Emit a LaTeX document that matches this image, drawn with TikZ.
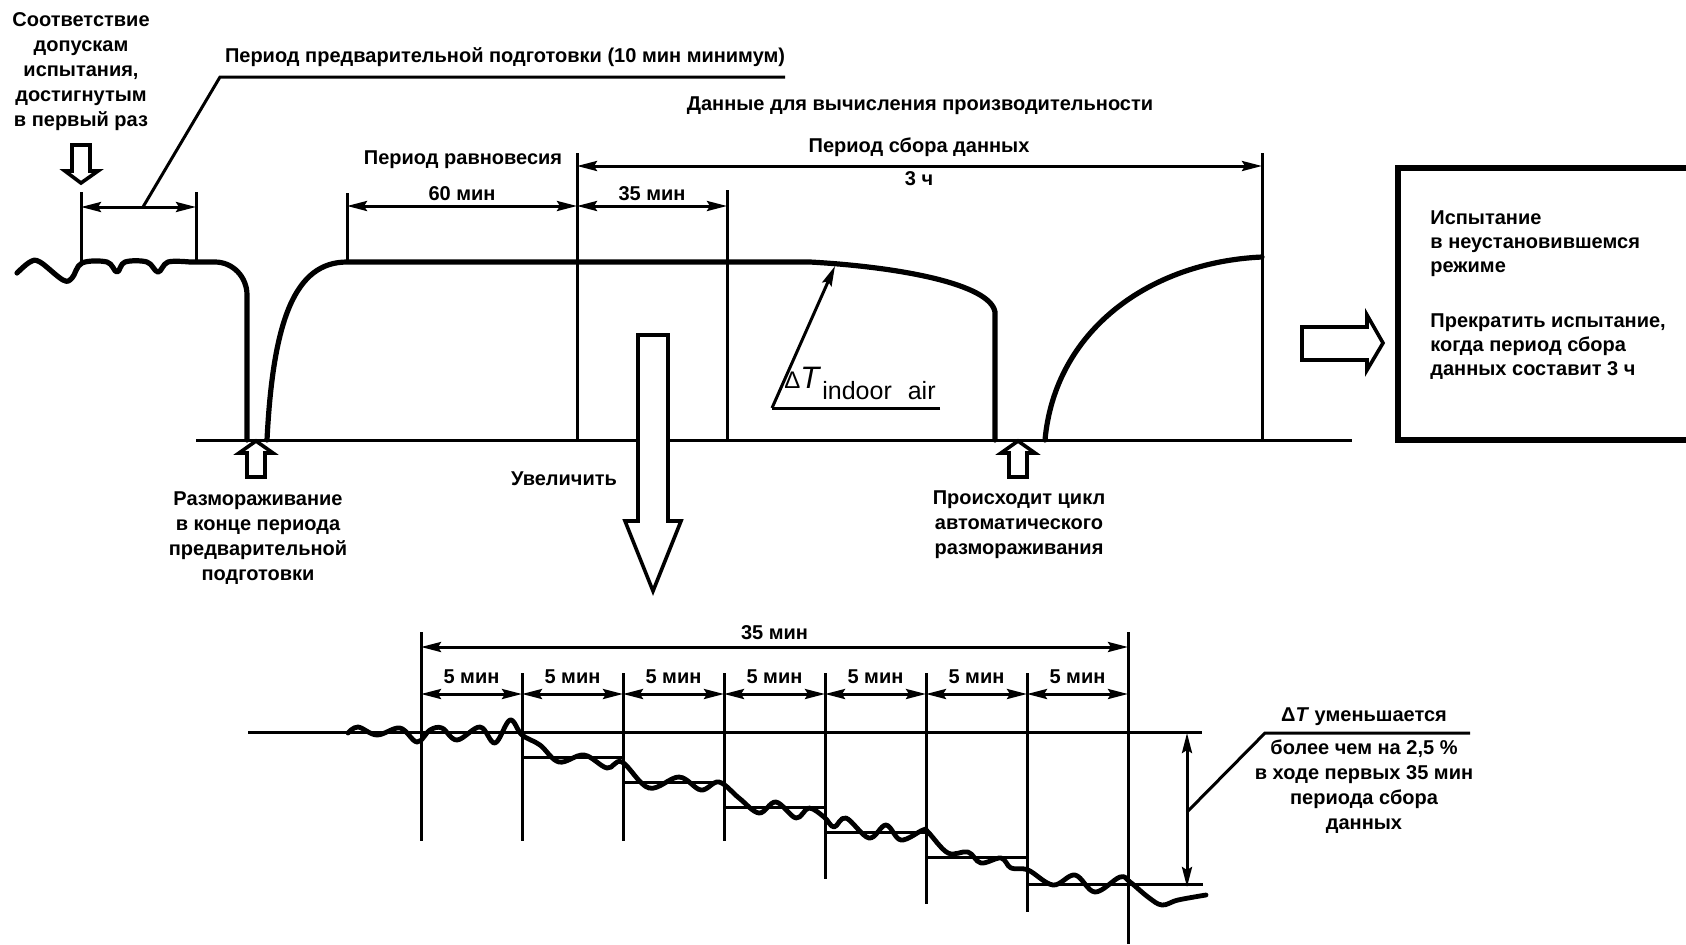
\documentclass[tikz,border=0pt]{standalone}
\usepackage{fontspec}
\setmainfont{Liberation Sans}
\usetikzlibrary{arrows.meta}

\tikzset{
	tickline/.style={line width=1.5pt},
	bigcurve/.style={line width=2.6pt, line join=round, line cap=round},
	dimarrow/.style={line width=1.5pt, {Stealth[length=10pt,width=5pt,inset=1.5pt]}-{Stealth[length=10pt,width=5pt,inset=1.5pt]}},
	onearrow/.style={line width=1.5pt, -{Stealth[length=10pt,width=5pt,inset=1.5pt]}},
	hollowarrow/.style={line width=1.8pt, line join=miter, fill=white},
	txt/.style={inner sep=0pt, align=center, font=\fontsize{10}{12.5}\selectfont\bfseries},
	txtl/.style={inner sep=0pt, align=left, anchor=west, font=\fontsize{10}{12}\selectfont\bfseries},
}

\begin{document}
\begin{tikzpicture}[x=0.5pt, y=-0.5pt]
		%%%%% START %%%%%
		\useasboundingbox (0,0) rectangle (1686,944);
		\clip (0,0) rectangle (1686,944);
		
		% upper chart: temperature curve
		\draw[bigcurve] plot[smooth, tension=0.6] coordinates {(17,273) (30,262) (40,262) (63,280) (72,278) (82,263) (107,262) (117,272) (125,262) (147,262) (158,272) (168,262) (190,262)}
			-- (215,262) to[out=0, in=90] (247,295) -- (247,440);
		\draw[bigcurve] (267,440) .. controls (273,320) and (295,262) .. (347,262) -- (810,262)
			.. controls (900,267) and (990,284) .. (995,312) -- (995,440);
		\draw[bigcurve] (1045,440) .. controls (1055,330) and (1150,262) .. (1262,257);
		
		% upper chart: axis and ticks
		\draw[tickline] (196,440) -- (1352,440);
		\draw[tickline] (81,192) -- (81,263);
		\draw[tickline] (196,192) -- (196,263);
		\draw[tickline] (347,193) -- (347,263);
		\draw[tickline] (577,153) -- (577,440);
		\draw[tickline] (727,190) -- (727,440);
		\draw[tickline] (1262,153) -- (1262,440);
		
		% dimensions
		\coordinate (preA) at (81,207);
		\coordinate (preB) at (196,207);
		\draw[dimarrow] (preA) -- (preB);
		\coordinate (preLead) at (143,207);
		\coordinate (preKnee) at (220,77);
		\coordinate (preEnd) at (785,77);
		\draw[tickline] (preLead) -- (preKnee) -- (preEnd);
		\node[txt] (preText) at (505,57) {Период предварительной подготовки (10 мин минимум)};
		
		\draw[dimarrow] (347,206) -- node[txt, above=2pt] (sixty) {60 мин} (577,206);
		\draw[dimarrow] (577,206) -- node[txt, above=2pt] (thirtyfive) {35 мин} (727,206);
		\draw[dimarrow] (577,166) -- (1262,166);
		\node[txt] (equil) at (463,160) {Период равновесия};
		\node[txt] (collect) at (919,147) {Период сбора данных};
		\node[txt] (hours) at (919,179) {3 ч};
		\node[txt] (perf) at (920,106) {Данные для вычисления производительности};
		
		\node[txt] (first) at (81,72) {Соответствие\\допускам\\испытания,\\достигнутым\\в первый раз};
		
		% delta T label
		\coordinate (dtFoot) at (772,408);
		\coordinate (dtTip) at (835,266);
		\draw[tickline] (940,408) -- (dtFoot);
		\draw[onearrow] (dtFoot) -- (dtTip);
		\node[inner sep=0pt, anchor=base west] (dT) at (784,388) {{\fontsize{12}{14}\selectfont Δ}{\fontsize{15.5}{17}\selectfont\itshape T}\hspace{1.5pt}{\fontsize{12.5}{14}\selectfont\raisebox{-5.5pt}{indoor\hspace{8pt}air}}};
		
		% hollow arrows
		\draw[hollowarrow] (72,145) -- (90,145) -- (90,171) -- (98,171) -- (81,183) -- (65,171) -- (72,171) -- cycle;
		\draw[hollowarrow] (256,441) -- (273,453) -- (265,453) -- (265,477) -- (247,477) -- (247,453) -- (239,453) -- cycle;
		\draw[hollowarrow] (1018,441) -- (1035,453) -- (1027,453) -- (1027,477) -- (1009,477) -- (1009,453) -- (1001,453) -- cycle;
		\draw[hollowarrow] (1302,327) -- (1367,327) -- (1367,315) -- (1383,343) -- (1367,370) -- (1367,360) -- (1302,360) -- cycle;
		\draw[hollowarrow] (638,335) -- (668,335) -- (668,521) -- (681,521) -- (653,591) -- (625,521) -- (638,521) -- cycle;
		
		\node[txt] (defrost) at (258,538) {Размораживание\\в конце периода\\предварительной\\подготовки};
		\node[txt] (auto) at (1019,525) {Происходит цикл\\автоматического\\размораживания};
		\node[txt] (zoomin) at (564,479) {Увеличить};
		
		% result box
		\draw[line width=2.6pt] (1398,168) rectangle (1720,440);
		\node[txtl] (transient) at (1430,244) {Испытание\\в неустановившемся\\режиме};
		\node[txtl] (stop) at (1430,347) {Прекратить испытание,\\когда период сбора\\данных составит 3 ч};
		
		% lower chart: enlarged first 35 minutes
		\draw[tickline] (248,732) -- (1202,732);
		\draw[tickline] (421,632) -- (421,841);
		\draw[tickline] (1128,632) -- (1128,944);
		\foreach \xa/\ybot in {522/841, 623/841, 724/841, 825/879, 926/904, 1027/912}
			\draw[tickline] (\xa,673) -- (\xa,\ybot);
		\foreach \xa/\xb/\lev in {522/623/757, 623/724/782, 724/825/807, 825/926/832, 926/1027/857, 1027/1203/884}
			\draw[tickline] (\xa,\lev) -- (\xb,\lev);
		\draw[dimarrow] (421,647) -- node[txt, above=3pt] (total) {35 мин} (1128,647);
		\foreach \xa/\xb in {421/522, 522/623, 623/724, 724/825, 825/926, 926/1027, 1027/1128}
			\draw[dimarrow] (\xa,694) -- node[txt, above=4.5pt] {5 мин} (\xb,694);
		
		\draw[bigcurve, line width=2.4pt] plot[smooth, tension=0.6] coordinates {(348,733) (358,727) (377,735) (400,728) (417,742) (430,730) (442,728) (457,740) (480,727) (495,743) (510,720) (522,735) (540,745) (559,762) (584,755) (607,768) (622,762) (649,788) (679,777) (701,790) (719,782) (739,798) (759,813) (776,802) (796,818) (809,808) (824,817) (834,827) (846,818) (869,838) (886,825) (901,840) (923,830) (928,832) (948,853) (968,852) (981,863) (1001,858) (1011,868) (1028,870) (1053,885) (1075,875) (1095,892) (1120,877) (1130,882) (1148,897) (1162,905) (1178,900) (1206,895)};
		
		% decrease label
		\draw[dimarrow] (1187,733) -- (1187,887);
		\coordinate (decLead) at (1187,812);
		\coordinate (decKnee) at (1265,733);
		\coordinate (decEnd) at (1470,733);
		\draw[tickline] (decLead) -- (decKnee) -- (decEnd);
		\node[txt] (decTop) at (1364,717) {Δ\textit{T} уменьшается};
		\node[txt] (decText) at (1364,787) {более чем на 2,5 \%\\в ходе первых 35 мин\\периода сбора\\данных};
		
		%%%%% END %%%%%
\end{tikzpicture}
\end{document}
